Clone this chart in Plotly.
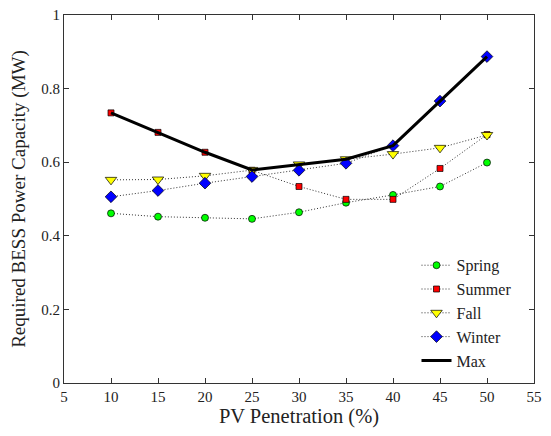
import plotly.graph_objects as go

pv = [10, 15, 20, 25, 30, 35, 40, 45, 50]
spring = [0.461, 0.452, 0.449, 0.446, 0.464, 0.490, 0.511, 0.534, 0.599]
summer = [0.734, 0.681, 0.627, 0.578, 0.534, 0.499, 0.499, 0.583, 0.675]
fall = [0.552, 0.553, 0.563, 0.579, 0.594, 0.608, 0.622, 0.639, 0.674]
winter = [0.506, 0.523, 0.543, 0.561, 0.578, 0.597, 0.645, 0.766, 0.887]
maxv = [0.734, 0.681, 0.627, 0.579, 0.594, 0.608, 0.645, 0.766, 0.887]

x_ticks = [5, 10, 15, 20, 25, 30, 35, 40, 45, 50, 55]
y_ticks = [0, 0.2, 0.4, 0.6, 0.8, 1]

font = "Liberation Serif, Times New Roman, serif"
dot = dict(color="#333333", width=1, dash="1px,2px")

fig = go.Figure()
fig.add_trace(go.Scatter(x=pv, y=spring, name="Spring", mode="lines+markers",
                         line=dot, marker=dict(symbol="circle", size=7, color="#00ff00",
                                               line=dict(color="black", width=0.7))))
fig.add_trace(go.Scatter(x=pv, y=summer, name="Summer", mode="lines+markers",
                         line=dot, marker=dict(symbol="square", size=6, color="#ff0000",
                                               line=dict(color="black", width=0.7))))
fig.add_trace(go.Scatter(x=pv, y=fall, name="Fall", mode="lines+markers",
                         line=dot, marker=dict(symbol="triangle-down", size=10, color="#ffff00",
                                               line=dict(color="black", width=0.7))))
fig.add_trace(go.Scatter(x=pv, y=winter, name="Winter", mode="lines+markers",
                         line=dot, marker=dict(symbol="diamond", size=9, color="#0000ff",
                                               line=dict(color="black", width=0.7))))
fig.add_trace(go.Scatter(x=pv, y=maxv, name="Max", mode="lines",
                         line=dict(color="black", width=3)))

axis_common = dict(showgrid=False, zeroline=False, showline=True, linecolor="#333333",
                   linewidth=1, mirror="ticks", ticks="inside", ticklen=5, automargin=False,
                   ticklabeloverflow="allow",
                   tickcolor="#333333", tickfont=dict(family=font, size=15, color="#222222"))

fig.update_layout(
    width=551, height=436,
    margin=dict(l=56, r=25, t=7, b=61, autoexpand=False),
    paper_bgcolor="white", plot_bgcolor="white",
    font=dict(family=font, color="#222222"),
    xaxis=dict(range=[5, 55], tickvals=x_ticks, ticktext=[str(v) for v in x_ticks],
               title=dict(text="PV Penetration (%)", font=dict(family=font, size=20.5), standoff=2),
               **axis_common),
    yaxis=dict(range=[0, 1], tickvals=y_ticks, ticktext=["0", "0.2", "0.4", "0.6", "0.8", "1"],
               title=dict(text="Required BESS Power Capacity (MW)", font=dict(family=font, size=19)),
               **axis_common),
    legend=dict(x=0.75, y=0.366, xanchor="left", yanchor="top",
                bgcolor="rgba(255,255,255,0)", font=dict(family=font, size=16),
                tracegroupgap=0, itemwidth=30),
    showlegend=True,
)

fig.write_html("out.html")
